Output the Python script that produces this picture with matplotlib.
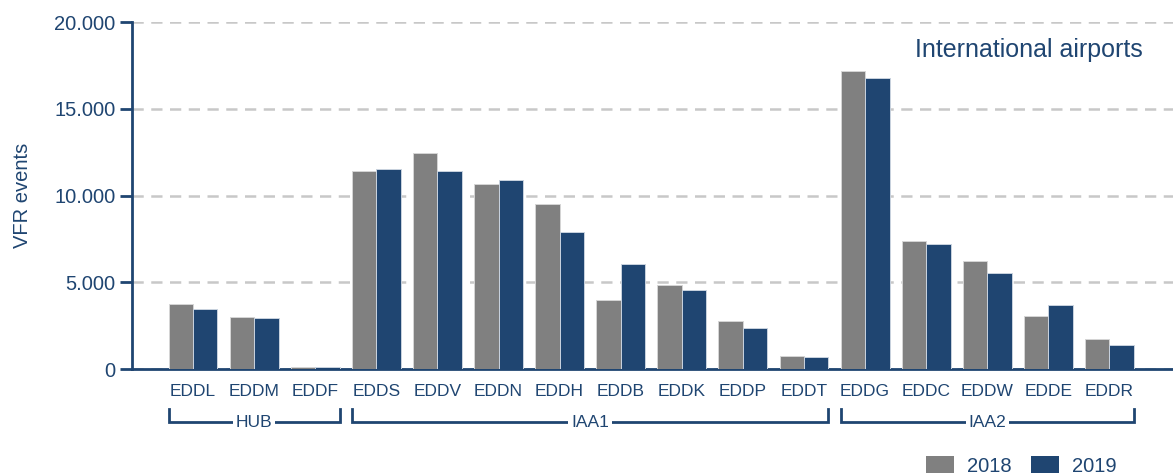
import matplotlib
matplotlib.use("Agg")
import matplotlib.pyplot as plt
import matplotlib.transforms as mtransforms
from matplotlib.patches import Patch
from matplotlib import font_manager
import numpy as np

names = {f.name for f in font_manager.fontManager.ttflist}
fam = 'Liberation Sans Narrow' if 'Liberation Sans Narrow' in names else 'Liberation Sans'
plt.rcParams['font.family'] = [fam, 'DejaVu Sans']

airports = ["EDDL", "EDDM", "EDDF", "EDDS", "EDDV", "EDDN", "EDDH", "EDDB",
            "EDDK", "EDDP", "EDDT", "EDDG", "EDDC", "EDDW", "EDDE", "EDDR"]
v2018 = [3750, 3000, 100, 11400, 12450, 10660, 9510, 4000,
         4840, 2750, 750, 17175, 7360, 6240, 3070, 1750]
v2019 = [3480, 2920, 115, 11530, 11400, 10890, 7870, 6070,
         4570, 2360, 710, 16750, 7200, 5550, 3690, 1365]
groups = [("HUB", 0, 2), ("IAA1", 3, 10), ("IAA2", 11, 15)]
yticks = [0, 5000, 10000, 15000, 20000]
ytick_labels = ["0", "5.000", "10.000", "15.000", "20.000"]
series_names = ["2018", "2019"]

C_GRAY = "#808080"
C_BLUE = "#1F4571"
C_TEXT = "#1F4571"

fig = plt.figure(figsize=(11.73, 4.74), dpi=100)
ax = fig.add_axes([0.1125, 0.2215, 0.8875, 0.732])

x = np.arange(len(airports))
w = 0.4
ax.bar(x - w / 2, v2018, w, color=C_GRAY, edgecolor="#d5d5d5", linewidth=0.7, zorder=3)
ax.bar(x + w / 2, v2019, w, color=C_BLUE, edgecolor="#c9d3df", linewidth=0.7, zorder=3)

ax.set_xlim(-1, 16.04)
ax.set_ylim(0, 20000)
ax.set_yticks(yticks)
ax.set_yticklabels(ytick_labels)
ax.set_xticks(x)
ax.set_xticklabels(airports)

for s in ["top", "right"]:
    ax.spines[s].set_visible(False)
for s in ["left", "bottom"]:
    ax.spines[s].set_color(C_BLUE)
    ax.spines[s].set_linewidth(2)

ax.tick_params(axis="y", colors=C_BLUE, labelcolor=C_TEXT, labelsize=14.5,
               length=9, width=2, direction="out", pad=3)
ax.tick_params(axis="x", length=0, labelcolor=C_TEXT, labelsize=12.5, pad=11)

ax.yaxis.grid(True, linestyle=(0, (4.5, 3)), color="#c8c8c8", linewidth=1.8, zorder=0)
ax.set_axisbelow(True)

ax.set_ylabel("VFR events", color=C_TEXT, fontsize=14.5, labelpad=16)

ax.text(0.971, 0.919, "International airports", transform=ax.transAxes,
        ha="right", va="center", fontsize=18, color=C_TEXT)

trans = mtransforms.blended_transform_factory(ax.transData, ax.transAxes)
y_top = -0.115
y_bot = -0.153
for name, i0, i1 in groups:
    xl = i0 - w
    xr = i1 + w
    ax.plot([xl, xl, xr, xr], [y_top, y_bot, y_bot, y_top], transform=trans,
            color=C_BLUE, linewidth=2, clip_on=False, solid_joinstyle="miter")
    ax.text((xl + xr) / 2, y_bot, name, transform=trans, ha="center", va="center",
            fontsize=12.5, color=C_TEXT,
            bbox=dict(facecolor="white", edgecolor="none", pad=2))

handles = [Patch(facecolor=C_GRAY, edgecolor="none"), Patch(facecolor=C_BLUE, edgecolor="none")]
leg = fig.legend(handles, series_names, loc="lower right", bbox_to_anchor=(0.955, -0.012),
                 ncol=2, frameon=False, fontsize=14.5, handlelength=1.4, handleheight=0.9,
                 handletextpad=0.6, columnspacing=1.0, borderaxespad=0.0, borderpad=0.2)
for t in leg.get_texts():
    t.set_color(C_TEXT)

fig.savefig("out.png", dpi=100)
